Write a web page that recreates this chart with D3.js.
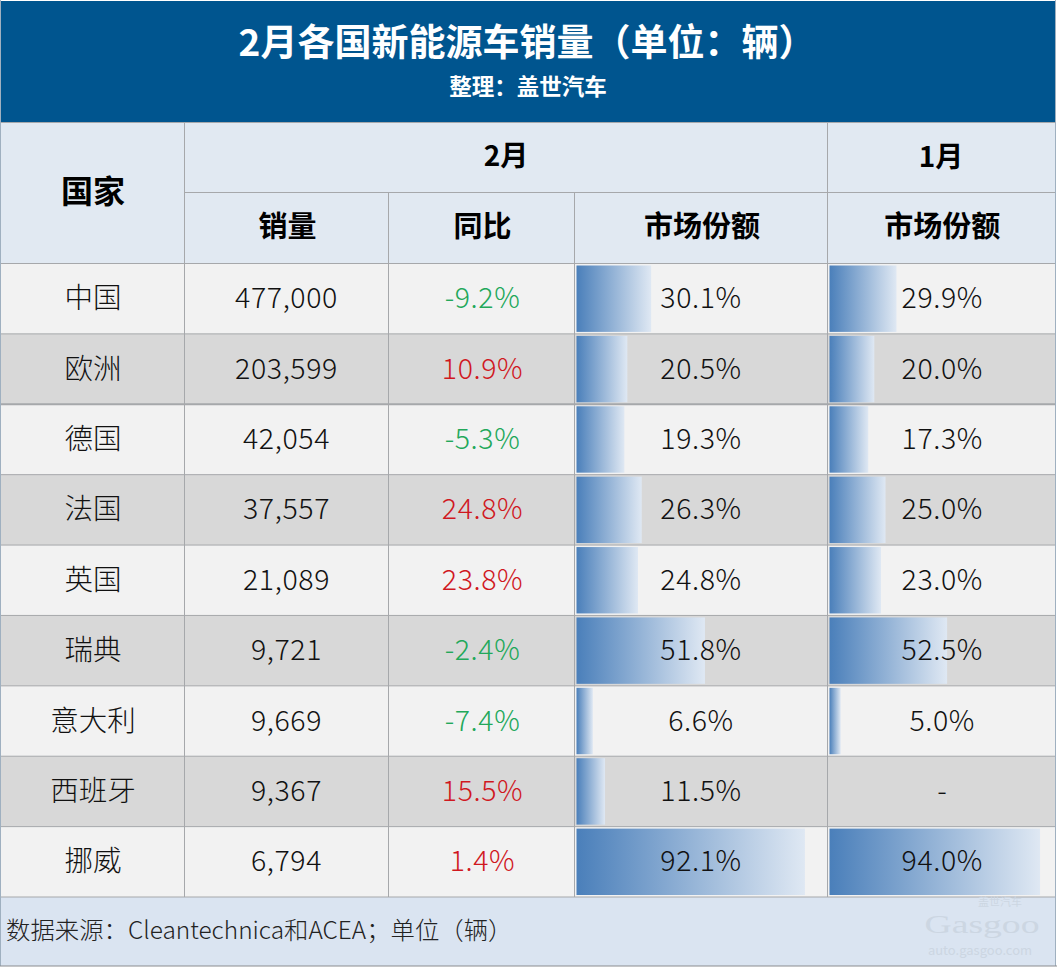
<!DOCTYPE html>
<html><head><meta charset="utf-8">
<script src="https://cdn.jsdelivr.net/npm/d3@7"></script>
<style>html,body{margin:0;padding:0;background:#fff}svg{display:block}text{font-family:"Noto Sans CJK SC","Noto Sans",sans-serif}</style>
</head><body><div id="c"></div>
<script>
const countries = ["中国","欧洲","德国","法国","英国","瑞典","意大利","西班牙","挪威"];
const sales = [477000,203599,42054,37557,21089,9721,9669,9367,6794];
const yoy = [-9.2,10.9,-5.3,24.8,23.8,-2.4,-7.4,15.5,1.4];
const shareFeb = [30.1,20.5,19.3,26.3,24.8,51.8,6.6,11.5,92.1];
const shareJan = [29.9,20.0,17.3,25.0,23.0,52.5,5.0,null,94.0];
const titleText = "2月各国新能源车销量（单位：辆）";
const subtitleText = "整理：盖世汽车";
const sourceText = "数据来源：Cleantechnica和ACEA；单位（辆）";

const W=1057,H=969;
const colEdges=[1,184.5,388.5,574.5,827.5,1055];
const top0=122.5, head1=192.5, head2=263.5, bodyEnd=897, footEnd=966;
const svg=d3.select("#c").append("svg").attr("width",W).attr("height",H).attr("viewBox",[0,0,W,H]);
const defs=svg.append("defs");
const g=defs.append("linearGradient").attr("id","bar").attr("x1",0).attr("x2",1).attr("y1",0).attr("y2",0);
g.append("stop").attr("offset",0).attr("stop-color","#4a7fba");
g.append("stop").attr("offset",1).attr("stop-color","#dfe8f3");

const y=d3.scaleBand().domain(d3.range(countries.length)).range([head2,bodyEnd]);
const xFeb=d3.scaleLinear().domain([0,100]).range([colEdges[3]+2,colEdges[3]+2+248]);
const xJan=d3.scaleLinear().domain([0,100]).range([colEdges[4]+2,colEdges[4]+2+224]);
const cx=i=>(colEdges[i]+colEdges[i+1])/2;
const fmt=d3.format(",");
const LINE="#a6a8ab";

svg.append("rect").attr("x",0).attr("y",0).attr("width",W).attr("height",H).attr("fill","#fff");
svg.append("rect").attr("x",1).attr("y",1).attr("width",1055).attr("height",top0-1).attr("fill","#00558f");
svg.append("rect").attr("x",1).attr("y",top0).attr("width",1055).attr("height",head2-top0).attr("fill","#e1e9f2");
svg.selectAll("rect.row").data(countries).join("rect").attr("class","row")
  .attr("x",1).attr("width",1055).attr("y",(d,i)=>y(i)).attr("height",y.bandwidth())
  .attr("fill",(d,i)=>i%2?"#d8d8d8":"#f2f2f2");
svg.append("rect").attr("x",1).attr("y",bodyEnd).attr("width",1055).attr("height",footEnd-bodyEnd).attr("fill","#dae4f1");

function bars(vals,x,cls){
  svg.selectAll("rect."+cls).data(vals.map((v,i)=>({v,i})).filter(d=>d.v!=null)).join("rect").attr("class",cls)
    .attr("x",x(0)).attr("width",d=>x(d.v)-x(0)).attr("y",d=>y(d.i)+2).attr("height",y.bandwidth()-4)
    .attr("fill","url(#bar)");
}
bars(shareFeb,xFeb,"bf");
bars(shareJan,xJan,"bj");

const ln=(x1,y1,x2,y2,w=1,c=LINE)=>svg.append("line").attr("x1",x1).attr("y1",y1).attr("x2",x2).attr("y2",y2).attr("stroke",c).attr("stroke-width",w);
ln(1,top0,1055,top0);
ln(colEdges[1],head1,1055,head1);
ln(1,head2,1055,head2);
countries.forEach((d,i)=>ln(1,y(i)+y.bandwidth(),1055,y(i)+y.bandwidth(),i===1?2:1));
[1,2,3,4].forEach(i=>{
  const start=(i===2||i===3)?head1:top0;
  ln(colEdges[i],start,colEdges[i],bodyEnd);
});
ln(0.5,0,0.5,footEnd,1,"#9fb0c0");
ln(1055.5,0,1055.5,footEnd,1,"#9fb0c0");
ln(0,footEnd,W,footEnd,1,"#8a8c8f");

const txt=(x,yy,s,size,weight,fill,anchor="middle")=>svg.append("text").attr("x",x).attr("y",yy).attr("text-anchor",anchor)
  .attr("font-size",size).attr("font-weight",weight).attr("fill",fill).text(s);

txt(527,56,titleText,37,700,"#fff");
txt(528,95,subtitleText,22.5,700,"#fff");
txt(93,203,"国家",32,700,"#000");
txt(506,166,"2月",28,700,"#000");
txt(941,167,"1月",28,700,"#000");
txt(cx(1)+1,237,"销量",29,700,"#000");
txt(cx(2)+1,237,"同比",29,700,"#000");
txt(cx(3)+1,237,"市场份额",29,700,"#000");
txt(cx(4)+1,237,"市场份额",29,700,"#000");

const by=i=>y(i)+y.bandwidth()/2+9.5;
const SIZE=28.5, WEIGHT=300;
const col=(cls,vals,x,label,fill,sp)=>svg.selectAll("text."+cls).data(vals).join("text").attr("class",cls)
  .attr("x",x).attr("y",(d,i)=>by(i)).attr("text-anchor","middle").attr("font-size",SIZE).attr("font-weight",WEIGHT)
  .attr("letter-spacing",sp).attr("fill",fill).text(label);
col("name",countries,93,d=>d,"#111",0);
col("sales",sales,cx(1),d=>fmt(d),"#111",0.6);
col("yoy",yoy,cx(2)+1,d=>d.toFixed(1)+"%",d=>d<0?"#22a85a":"#d0181f",0.6);
col("sf",shareFeb,cx(3),d=>d.toFixed(1)+"%","#111",0.6);
col("sj",shareJan,cx(4)+1,d=>d==null?"-":d.toFixed(1)+"%","#111",0.6);

txt(6,939,sourceText,24.4,300,"#222","start");

txt(1000,906,"盖世汽车",11,400,"#ccd6e2");
txt(982,933,"Gasgoo",26,400,"#ccd6e2").style("font-family","'Liberation Serif',serif")
  .attr("textLength",115).attr("lengthAdjust","spacingAndGlyphs");
txt(980,955,"auto.gasgoo.com",13,400,"#ccd6e2");
</script></body></html>
